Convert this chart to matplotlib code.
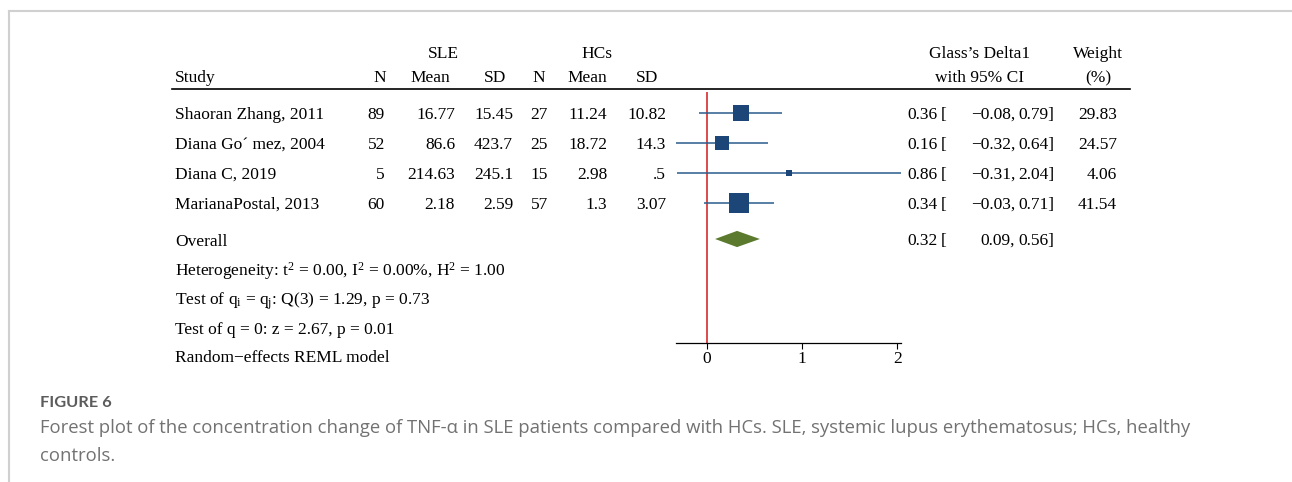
import numpy as np
import matplotlib
matplotlib.use("Agg")
import matplotlib.pyplot as plt
from matplotlib.lines import Line2D
from matplotlib.transforms import blended_transform_factory

plt.rcParams["font.family"] = ["Liberation Serif", "DejaVu Serif"]
plt.rcParams["mathtext.fontset"] = "custom"
plt.rcParams["mathtext.rm"] = "Liberation Serif"
plt.rcParams["mathtext.default"] = "regular"

# study-level data
studies = ["Shaoran Zhang, 2011", "Diana Go\u00b4 mez, 2004", "Diana C, 2019", "MarianaPostal, 2013"]
sle_n = [89, 52, 5, 60]
sle_mean = [16.77, 86.6, 214.63, 2.18]
sle_sd = [15.45, 423.7, 245.1, 2.59]
hc_n = [27, 25, 15, 57]
hc_mean = [11.24, 18.72, 2.98, 1.3]
hc_sd = [10.82, 14.3, 0.5, 3.07]
effect = [0.36, 0.16, 0.86, 0.34]
ci_low = [-0.08, -0.32, -0.31, -0.03]
ci_high = [0.79, 0.64, 2.04, 0.71]
weight = [29.83, 24.57, 4.06, 41.54]

# pooled estimate
overall = 0.32
overall_low = 0.09
overall_high = 0.56

footer = [
    r"Heterogeneity: t$^2$ = 0.00, I$^2$ = 0.00%, H$^2$ = 1.00",
    r"Test of q$_{i}$ = q$_{j}$: Q(3) = 1.29, p = 0.73",
    "Test of q = 0: z = 2.67, p = 0.01",
    "Random\u2212effects REML model",
]
x_ticks = [0, 1, 2]

caption_title = "FIGURE 6"
caption_lines = [
    "Forest plot of the concentration change of TNF-\u03b1 in SLE patients compared with HCs. "
    "SLE, systemic lupus erythematosus; HCs, healthy",
    "controls.",
]

W, H = 1292, 482
FS = 12.5
SQ_COLOR = "#1b4677"
LINE_COLOR = "#2b5b8c"
DIAMOND_COLOR = "#5b7a2e"


def fmt(v):
    s = f"{v:g}"
    if s.startswith("0."):
        s = s[1:]
    return s


def num(v):
    return f"{v:.2f}".replace("-", "\u2212")


fig = plt.figure(figsize=(W / 100, H / 100), dpi=100)
ax = fig.add_axes([676 / W, 1 - 343 / H, (901 - 676) / W, (343 - 92) / H])
ax.set_xlim(min(ci_low), max(ci_high))
ax.set_ylim(7.667, -0.7)

rows = np.arange(len(studies))
overall_row = 4.2

# confidence intervals and weighted squares
for r, e, lo, hi, w in zip(rows, effect, ci_low, ci_high, weight):
    ax.plot([lo, hi], [r, r], color=LINE_COLOR, lw=1.1, solid_capstyle="butt", zorder=2)
    ax.plot(e, r, marker="s", color=SQ_COLOR, markersize=2.15 * np.sqrt(w),
            markeredgewidth=0, zorder=3)

# pooled diamond
half_h = 0.27
ax.fill([overall_low, overall, overall_high, overall],
        [overall_row, overall_row - half_h, overall_row, overall_row + half_h],
        color=DIAMOND_COLOR, lw=0, zorder=3)

ax.axvline(0, color="#d92b2b", lw=1.2, zorder=1)

for s in ["left", "right", "top"]:
    ax.spines[s].set_visible(False)
ax.spines["bottom"].set_linewidth(0.9)
ax.set_yticks([])
ax.set_xticks(x_ticks)
ax.set_xticklabels([str(t) for t in x_ticks])
ax.tick_params(axis="x", direction="out", length=4, width=0.8, labelsize=FS, pad=2)

tr = blended_transform_factory(fig.transFigure, ax.transData)


def put(px, row, s, ha="left", **kw):
    ax.text(px / W, row + 0.06, s, transform=tr, ha=ha, va="center", fontsize=FS,
            clip_on=False, **kw)


# headers
put(443, -2.03, "SLE", ha="center")
put(597, -2.03, "HCs", ha="center")
put(980, -2.03, "Glass\u2019s Delta1", ha="center")
put(1098, -2.03, "Weight", ha="center")
put(175, -1.23, "Study")
put(380, -1.23, "N", ha="center")
put(430, -1.23, "Mean", ha="center")
put(495, -1.23, "SD", ha="center")
put(539, -1.23, "N", ha="center")
put(587, -1.23, "Mean", ha="center")
put(647, -1.23, "SD", ha="center")
put(980, -1.23, "with 95% CI", ha="center")
put(1098, -1.23, "(%)", ha="center")

ax.plot([172 / W, 1130 / W], [-0.8, -0.8], transform=tr, color="black", lw=1.2,
        clip_on=False)

# study rows
for r in rows:
    put(175, r, studies[r])
    put(385, r, str(sle_n[r]), ha="right")
    put(455, r, fmt(sle_mean[r]), ha="right")
    put(513, r, fmt(sle_sd[r]), ha="right")
    put(548, r, str(hc_n[r]), ha="right")
    put(607, r, fmt(hc_mean[r]), ha="right")
    put(666, r, fmt(hc_sd[r]), ha="right")
    put(938, r, num(effect[r]), ha="right")
    put(941, r, "[")
    put(1015, r, num(ci_low[r]) + ",", ha="right")
    put(1054, r, num(ci_high[r]) + "]", ha="right")
    put(1117, r, f"{weight[r]:.2f}", ha="right")

put(175, overall_row + 0.03, "Overall")
put(938, overall_row, num(overall), ha="right")
put(941, overall_row, "[")
put(1015, overall_row, num(overall_low) + ",", ha="right")
put(1054, overall_row, num(overall_high) + "]", ha="right")

for row, line in zip([5.22, 6.2, 7.19, 8.12], footer):
    put(175, row, line)

# caption
fig.text(40 / W, 1 - 403 / H, caption_title, fontsize=11.8, fontweight="bold",
         color="#5c5c5c", family=["Lato", "DejaVu Sans"], va="center")
for i, line in enumerate(caption_lines):
    fig.text(40 / W, 1 - (428 + 28 * i) / H, line, fontsize=13.3, color="#727272",
             family=["Open Sans", "DejaVu Sans"], va="center")

# page frame
fig.add_artist(Line2D([9 / W, 1], [1 - 11 / H, 1 - 11 / H], color="#d0d0d0", lw=1.5))
fig.add_artist(Line2D([9 / W, 9 / W], [0, 1 - 11 / H], color="#d0d0d0", lw=1.5))

fig.savefig("out.png", dpi=100)
